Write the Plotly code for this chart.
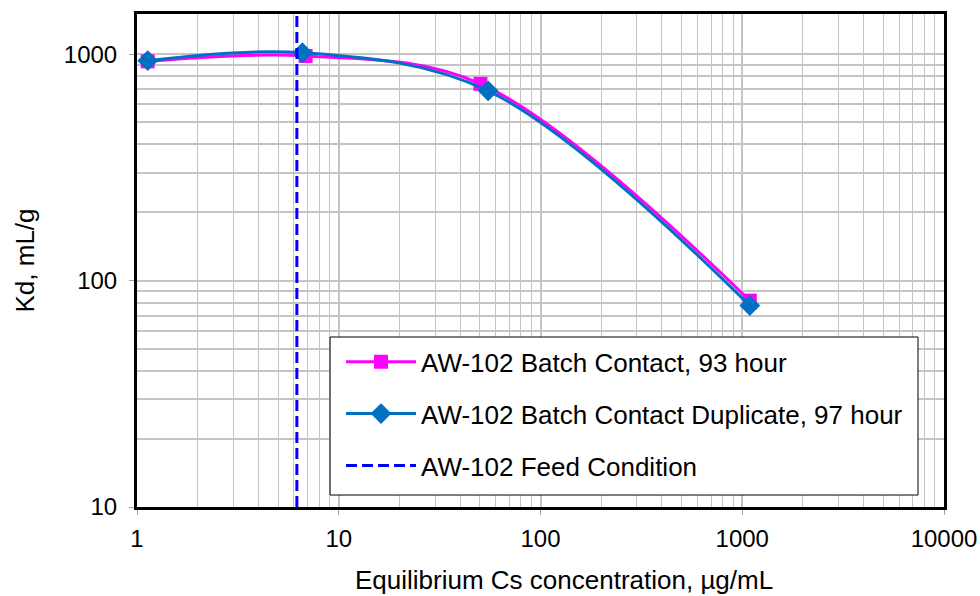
import plotly.graph_objects as go

# Batch contact results: equilibrium Cs concentration (µg/mL) vs Kd (mL/g)
batch_cs = [1.13, 6.85, 50.4, 1090]
batch_kd = [930, 983, 740, 81.6]

dup_cs = [1.13, 6.6, 55, 1090]
dup_kd = [937, 1016, 689, 77.6]

feed_cs = 6.2

x_ticks = [1, 10, 100, 1000, 10000]
y_ticks = [10, 100, 1000]
y_top = 1506

FONT = "Arial, Liberation Sans, sans-serif"
GRID = "#c4c4c4"

fig = go.Figure()

fig.add_trace(go.Scatter(
    x=batch_cs, y=batch_kd, mode="lines+markers",
    name="AW-102 Batch Contact, 93 hour", legendgroup="a",
    line=dict(color="#FF00FF", width=3, shape="spline", smoothing=1),
    marker=dict(symbol="square", size=14, color="#FF00FF"),
))
fig.add_trace(go.Scatter(
    x=dup_cs, y=dup_kd, mode="lines+markers",
    name="AW-102 Batch Contact Duplicate, 97 hour", legendgroup="b",
    line=dict(color="#0070C0", width=3, shape="spline", smoothing=1),
    marker=dict(symbol="diamond", size=16, color="#0070C0"),
))
fig.add_trace(go.Scatter(
    x=[feed_cs, feed_cs], y=[y_ticks[0], y_top], mode="lines",
    name="AW-102 Feed Condition", legendgroup="c",
    line=dict(color="#0000FF", width=3, dash="11px,5px"),
))

# white legend panel with a thin black frame
fig.add_shape(
    type="rect", xref="paper", yref="paper",
    x0=0.2392, x1=0.9678, y0=0.0243, y1=0.3448,
    line=dict(color="black", width=1), fillcolor="white", layer="above",
)

# x-axis title
fig.add_annotation(
    text="Equilibrium Cs concentration, µg/mL",
    xref="paper", yref="paper", x=0.529, y=-0.148,
    xanchor="center", yanchor="middle", showarrow=False,
    font=dict(family=FONT, size=26, color="black"),
)

fig.update_layout(
    width=980, height=596,
    margin=dict(l=137, r=36, t=14, b=89),
    paper_bgcolor="white", plot_bgcolor="white",
    font=dict(family=FONT, size=24, color="black"),
    showlegend=True,
    legend=dict(
        x=0.2528, y=0.342, xanchor="left", yanchor="top",
        bgcolor="rgba(0,0,0,0)", borderwidth=0,
        font=dict(family=FONT, size=26, color="black"),
        itemwidth=70, tracegroupgap=15,
    ),
)

fig.update_xaxes(
    type="log", range=[0, 4],
    tickvals=x_ticks, ticktext=[str(v) for v in x_ticks],
    tickfont=dict(family=FONT, size=24),
    ticks="outside", ticklen=5, tickcolor="#a0a0a0", tickwidth=1,
    ticklabelstandoff=3,
    showgrid=True, gridcolor=GRID, gridwidth=1.5,
    minor=dict(dtick="D1", showgrid=True, gridcolor=GRID, gridwidth=1.2),
    showline=True, linecolor="black", linewidth=3, mirror=True,
    automargin=False, zeroline=False,
)
fig.update_yaxes(
    type="log", range=[1, 3.1778],
    tickvals=y_ticks, ticktext=[str(v) for v in y_ticks],
    tickfont=dict(family=FONT, size=24),
    ticks="outside", ticklen=5, tickcolor="#a0a0a0", tickwidth=1,
    ticklabelstandoff=7,
    showgrid=True, gridcolor=GRID, gridwidth=1.5,
    minor=dict(dtick="D1", showgrid=True, gridcolor=GRID, gridwidth=1.5),
    showline=True, linecolor="black", linewidth=3, mirror=True,
    title=dict(text="Kd, mL/g", standoff=22, font=dict(family=FONT, size=26)),
    automargin=False, zeroline=False,
)

fig.write_html("out.html")
